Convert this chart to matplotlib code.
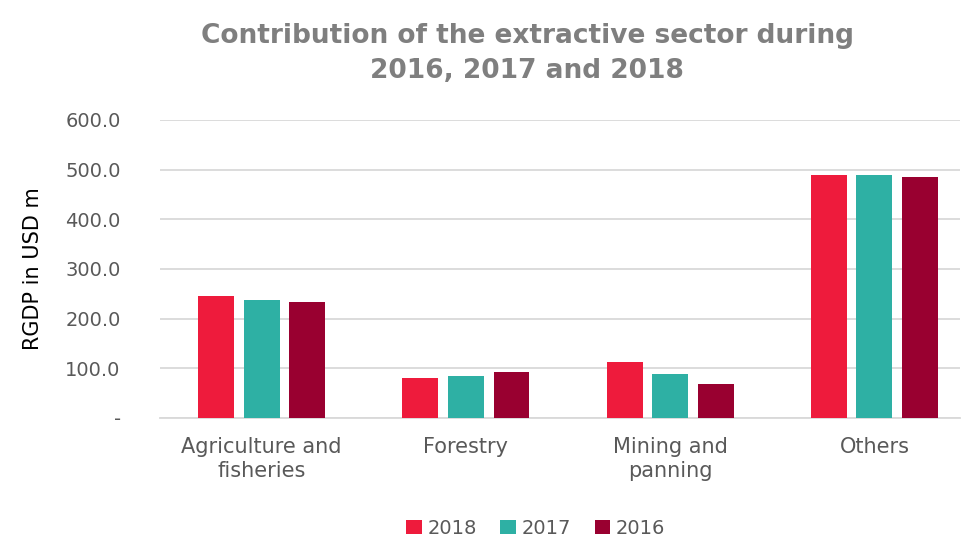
import matplotlib.pyplot as plt
import numpy as np
from matplotlib.ticker import FuncFormatter

categories = ['Agriculture and\nfisheries', 'Forestry', 'Mining and\npanning', 'Others']
years = ['2018', '2017', '2016']
values_2018 = [245.5, 81.0, 113.0, 489.5]
values_2017 = [237.5, 85.0, 89.0, 489.5]
values_2016 = [233.5, 93.0, 69.0, 485.5]
colors = ['#EE1B3C', '#2EB0A4', '#990030']

TEXT = '#595959'


def fmt_tick(v, pos):
    if v == 0:
        return '-'
    return '{0:.1f}'.format(v)


fig = plt.figure(figsize=(9.67, 5.4), dpi=100)
ax = fig.add_axes([0.165, 0.226, 0.828, 0.552])

x = np.arange(len(categories))
width = 0.176
step = 0.223
series = [values_2018, values_2017, values_2016]
for i, (vals, year, color) in enumerate(zip(series, years, colors)):
    ax.bar(x + (i - 1) * step, vals, width, color=color, label=year, zorder=3)

ax.set_xlim(-0.5, 3.42)
ax.set_ylim(0, 600)
ax.set_yticks(np.arange(0, 601, 100))
ax.yaxis.set_major_formatter(FuncFormatter(fmt_tick))
ax.set_xticks(x)
ax.set_xticklabels(categories, fontsize=15, color=TEXT, linespacing=1.25)
ax.tick_params(axis='y', labelsize=14, labelcolor=TEXT, length=0, pad=28)
ax.tick_params(axis='x', length=0, pad=14)
ax.grid(axis='y', color='#D9D9D9', linewidth=1.3, zorder=0)
for side in ['top', 'right', 'left']:
    ax.spines[side].set_visible(False)
ax.spines['bottom'].set_color('#D9D9D9')
ax.spines['bottom'].set_linewidth(1.3)

ax.set_ylabel('RGDP in USD m', fontsize=15, color='black', labelpad=16)

fig.text(0.545, 0.901, 'Contribution of the extractive sector during\n2016, 2017 and 2018',
         ha='center', va='center', fontsize=19, fontweight='bold', color='#7F7F7F',
         linespacing=1.45)

ax.legend(loc='center', bbox_to_anchor=(0.47, -0.37), ncol=3, frameon=False,
          fontsize=14, labelcolor=TEXT, handlelength=0.8, handleheight=0.8,
          handletextpad=0.3, columnspacing=1.2)

fig.savefig('out.png', dpi=100)
